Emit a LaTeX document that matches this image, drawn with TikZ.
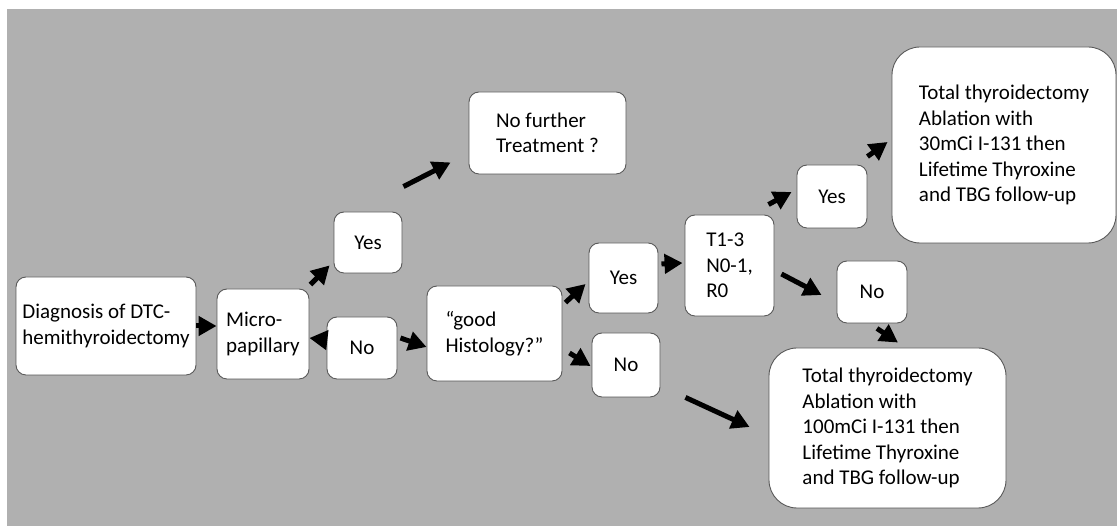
\documentclass[tikz,border=0pt]{standalone}
\usepackage{fontspec}
\setmainfont{Carlito}
\usepackage{xcolor}
\usetikzlibrary{arrows.meta}

\definecolor{bggray}{gray}{0.69}
\definecolor{edgegray}{gray}{0.35}

\begin{document}
\begin{tikzpicture}[x=1pt, y=1pt,
  box/.style={draw=edgegray, line width=0.9pt, fill=white, rounded corners=10pt,
    align=left, inner sep=0pt, font=\fontsize{21}{25.5}\selectfont},
  bigbox/.style={box, rounded corners=28pt},
  arr/.style={line width=5pt, -{Triangle[length=18pt, width=19pt]}}]
  % Draw the grey backdrop
  \useasboundingbox (0,0) rectangle (1117,526);
  \fill[bggray] (7,0) rectangle (1117,517);

  % Boxes of the first column
  \node[box, minimum width=180pt, minimum height=98pt] (diag) at (106,200) {Diagnosis of DTC-\\hemithyroidectomy};
  \node[box, minimum width=92pt, minimum height=90pt] (micro) at (263,192) {Micro-\\papillary};
  \node[box, minimum width=70pt, minimum height=62pt] (noA) at (362,178) {No};
  \node[box, minimum width=68pt, minimum height=61pt] (yesA) at (368,283.5) {Yes};
  \node[box, minimum width=157pt, minimum height=82pt] (nofurther) at (547.5,393) {No further\\Treatment ?};
  \node[box, minimum width=135pt, minimum height=95pt] (hist) at (494.5,192.5) {“good\\Histology?”};

  % Boxes after the histology
  \node[box, minimum width=69pt, minimum height=70pt] (yesB) at (623.5,248) {Yes};
  \node[box, minimum width=68pt, minimum height=64pt] (noB) at (626,161) {No};
  \node[box, minimum width=89pt, minimum height=101pt] (tnm) at (729.5,260.5) {T1-3\\N0-1,\\R0};
  \node[box, minimum width=70pt, minimum height=63pt] (yesC) at (832,329.5) {Yes};
  \node[box, minimum width=70pt, minimum height=62pt] (noC) at (872,234) {No};

  % The two treatments
  \node[bigbox, minimum width=224pt, minimum height=196pt] (totalA) at (1004,381) {Total thyroidectomy\\Ablation with\\30mCi I-131 then\\Lifetime Thyroxine\\and TBG follow-up};
  \node[bigbox, minimum width=237pt, minimum height=160pt] (totalB) at (887.5,98) {Total thyroidectomy\\Ablation with\\100mCi I-131 then\\Lifetime Thyroxine\\and TBG follow-up};

  % Arrows
  \draw[arr] (diag.east) -- (micro.west |- diag.east);
  \draw[arr] ([yshift=8pt]noA.west) -- ([yshift=-4pt]micro.east);
  \draw[arr] ([shift={(1,4)}]micro.north east) -- ([shift={(-4,8)}]yesA.south west);
  \draw[arr] ([shift={(3,10)}]noA.east) -- ([yshift=-13.5pt]hist.west);
  \draw[arr] ([shift={(1,25)}]yesA.north east) -- ([shift={(-18,12)}]nofurther.south west);
  \draw[arr] ([shift={(3,-17)}]hist.north east) -- ([shift={(-3,-6)}]yesB.west);
  \draw[arr] ([shift={(7,-19.5)}]hist.east) -- ([shift={(-1,-1)}]noB.west);
  \draw[arr] ([shift={(3,14)}]yesB.east) -- ([shift={(-2,2.5)}]tnm.west);
  \draw[arr] ([shift={(-6,10)}]tnm.north east) -- ([shift={(-5,4.5)}]yesC.west);
  \draw[arr] ([yshift=8pt]yesC.north east) -- ([shift={(-4,3)}]totalA.west);
  \draw[arr] ([shift={(7,-8.5)}]tnm.east) -- ([shift={(-15,-3)}]noC.west);
  \draw[arr] ([shift={(5,-5)}]noC.south) -- ([shift={(10.5,5)}]totalB.north);
  \draw[arr] ([xshift=25pt]noB.south east) -- ([shift={(-19,1)}]totalB.west);
\end{tikzpicture}
\end{document}
